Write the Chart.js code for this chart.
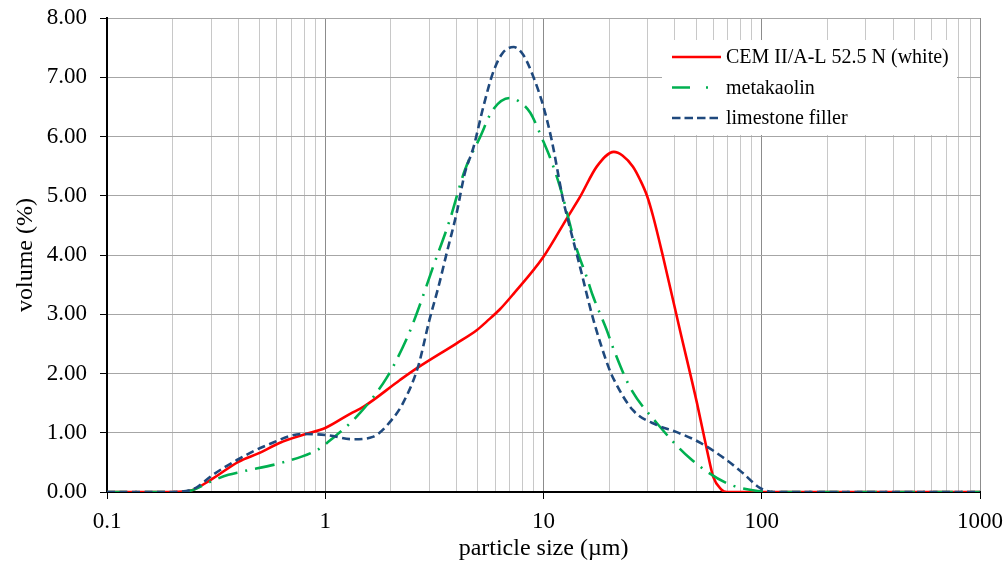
<!DOCTYPE html>
<html>
<head>
<meta charset="utf-8">
<script src="https://cdn.jsdelivr.net/npm/chart.js@4"></script>
<style>
  html, body { margin: 0; padding: 0; background: #fff; }
  #wrap { width: 1007px; height: 563px; }
</style>
</head>
<body>
<div id="wrap"><canvas id="c" width="1007" height="563"></canvas></div>
<script>
// x axis: decades and the minor steps between them
const decades = [0.1, 1, 10, 100, 1000];
const decadeLabels = ["0.1", "1", "10", "100", "1000"];
const minorSteps = [1, 2, 3, 4, 5, 6, 7, 8, 9];

// CEM II/A-L 52.5 N (white)
const cemSize = [0.1, 0.2, 0.24, 0.3, 0.4, 0.5, 0.62, 0.8, 1.0, 1.3, 1.5, 2.2, 2.63, 4.0, 4.94, 5.5, 6.3, 7.27, 10, 12.9, 14.7, 17.6, 21, 23, 25.7, 27.7, 29.8, 31.8, 35.3, 42.2, 50.5, 56.1, 60, 65, 69.3, 100, 1000];
const cemVol  = [0, 0, 0.02, 0.21, 0.51, 0.66, 0.83, 0.97, 1.08, 1.32, 1.44, 1.89, 2.09, 2.51, 2.73, 2.88, 3.08, 3.34, 3.97, 4.64, 4.98, 5.5, 5.74, 5.68, 5.49, 5.27, 5.0, 4.65, 3.97, 2.73, 1.5, 0.71, 0.25, 0.05, 0, 0, 0];

// metakaolin
const mkSize = [0.1, 0.2, 0.24, 0.3, 0.36, 0.41, 0.64, 0.92, 1.02, 1.44, 1.92, 2.37, 2.63, 3.12, 3.72, 4.36, 5.12, 5.86, 7.0, 7.8, 8.7, 10, 10.7, 11.9, 14.2, 15.8, 16.8, 19.5, 21, 24.9, 33.1, 46.9, 69, 91, 120, 1000];
const mkVol  = [0, 0, 0.02, 0.18, 0.29, 0.34, 0.5, 0.71, 0.83, 1.33, 1.94, 2.6, 3.02, 3.8, 4.59, 5.43, 5.99, 6.45, 6.65, 6.58, 6.40, 5.91, 5.65, 5.15, 4.1, 3.62, 3.32, 2.73, 2.4, 1.77, 1.16, 0.57, 0.15, 0.03, 0, 0];

// limestone filler
const lsSize = [0.1, 0.2, 0.24, 0.258, 0.306, 0.394, 0.54, 0.79, 1.02, 1.34, 1.65, 2.05, 2.27, 2.66, 3.0, 3.3, 3.6, 4.0, 4.36, 4.78, 5.3, 5.86, 6.5, 7.3, 8.1, 9.0, 10, 10.9, 12.3, 13.2, 14.7, 16.8, 19.8, 21, 25.7, 33.1, 40.8, 52.4, 69, 81.9, 98, 113, 1000];
const lsVol  = [0, 0, 0.03, 0.08, 0.29, 0.54, 0.79, 0.98, 0.96, 0.89, 0.93, 1.25, 1.5, 2.11, 2.9, 3.46, 4.03, 4.71, 5.38, 5.82, 6.5, 7.07, 7.41, 7.51, 7.37, 7.0, 6.5, 5.94, 4.93, 4.47, 3.8, 2.95, 2.12, 1.9, 1.38, 1.13, 1.01, 0.83, 0.54, 0.32, 0.07, 0, 0];

const FONT = "'Liberation Serif', 'Times New Roman', serif";

const pts = (xs, ys) => xs.map((x, i) => ({ x: x, y: ys[i] }));
const isDecade = v => Math.abs(Math.log10(v) - Math.round(Math.log10(v))) < 1e-6;

const xTickValues = [];
decades.slice(0, -1).forEach(d => minorSteps.forEach(m => xTickValues.push(+(d * m).toPrecision(6))));
xTickValues.push(decades[decades.length - 1]);

// legend box drawn inside the plot, like the original
const boxLegend = {
  id: "boxLegend",
  afterDatasetsDraw(chart) {
    const ctx = chart.ctx;
    const legendDash = [[], [18, 16, 2, 100], [8.5, 4]];
    ctx.save();
    ctx.fillStyle = "#fff";
    ctx.fillRect(662, 40, 295, 95);
    chart.data.datasets.forEach((ds, i) => {
      const y = 57 + i * 30.5;
      ctx.strokeStyle = ds.borderColor;
      ctx.lineWidth = ds.borderWidth;
      ctx.setLineDash(legendDash[i]);
      ctx.beginPath();
      ctx.moveTo(672, y);
      ctx.lineTo(721, y);
      ctx.stroke();
      ctx.setLineDash([]);
      ctx.fillStyle = "#000";
      ctx.font = "20px " + FONT;
      ctx.textBaseline = "middle";
      ctx.fillText(ds.label, 726, y + 1);
    });
    ctx.restore();
  }
};

new Chart(document.getElementById("c"), {
  type: "line",
  data: {
    datasets: [
      { label: "CEM II/A-L 52.5 N (white)", data: pts(cemSize, cemVol), borderColor: "#ff0000", borderWidth: 2.6, order: 3 },
      { label: "metakaolin", data: pts(mkSize, mkVol), borderColor: "#00b050", borderWidth: 2.6, borderDash: [20, 8, 2, 8], order: 2 },
      { label: "limestone filler", data: pts(lsSize, lsVol), borderColor: "#1f497d", borderWidth: 2.6, borderDash: [8, 4.5], order: 1 }
    ]
  },
  options: {
    responsive: false,
    animation: false,
    devicePixelRatio: 1,
    parsing: false,
    layout: { padding: { top: 18, right: 27, left: 0, bottom: 0 } },
    elements: {
      point: { radius: 0 },
      line: { cubicInterpolationMode: "monotone", fill: false }
    },
    plugins: { legend: { display: false }, tooltip: { enabled: false } },
    scales: {
      x: {
        type: "logarithmic",
        min: 0.1,
        max: 1000,
        afterBuildTicks: s => { s.ticks = xTickValues.map(v => ({ value: v, major: isDecade(v) })); },
        afterFit: s => { s.height = 71; s.paddingLeft = 0; s.paddingRight = 0; },
        ticks: {
          autoSkip: false,
          maxRotation: 0,
          padding: 9,
          color: "#000",
          font: { family: FONT, size: 23 },
          callback: v => {
            const i = decades.findIndex(d => Math.abs(d - v) < 1e-9);
            return i >= 0 ? decadeLabels[i] : "";
          }
        },
        grid: {
          color: c => (c.tick && isDecade(c.tick.value)) ? "#8c8c8c" : "#c8c8c8",
          tickColor: c => (c.tick && isDecade(c.tick.value)) ? "#000" : "rgba(0,0,0,0)",
          tickLength: 7,
          lineWidth: 1
        },
        border: { color: "#000", width: 2 },
        title: {
          display: true,
          text: "particle size (µm)",
          color: "#000",
          font: { family: FONT, size: 24 },
          padding: { top: 0, bottom: 0 }
        }
      },
      y: {
        min: 0,
        max: 8,
        afterFit: s => { s.width = 107; s.paddingTop = 0; s.paddingBottom = 0; },
        ticks: {
          stepSize: 1,
          padding: 13,
          color: "#000",
          font: { family: FONT, size: 23 },
          callback: v => v.toFixed(2)
        },
        grid: { color: "#a6a6a6", tickColor: "#000", tickLength: 7, lineWidth: 1 },
        border: { color: "#000", width: 2 },
        title: {
          display: true,
          text: "volume (%)",
          color: "#000",
          font: { family: FONT, size: 24 },
          padding: { top: 11, bottom: 0 }
        }
      }
    }
  },
  plugins: [boxLegend]
});
</script>
</body>
</html>
